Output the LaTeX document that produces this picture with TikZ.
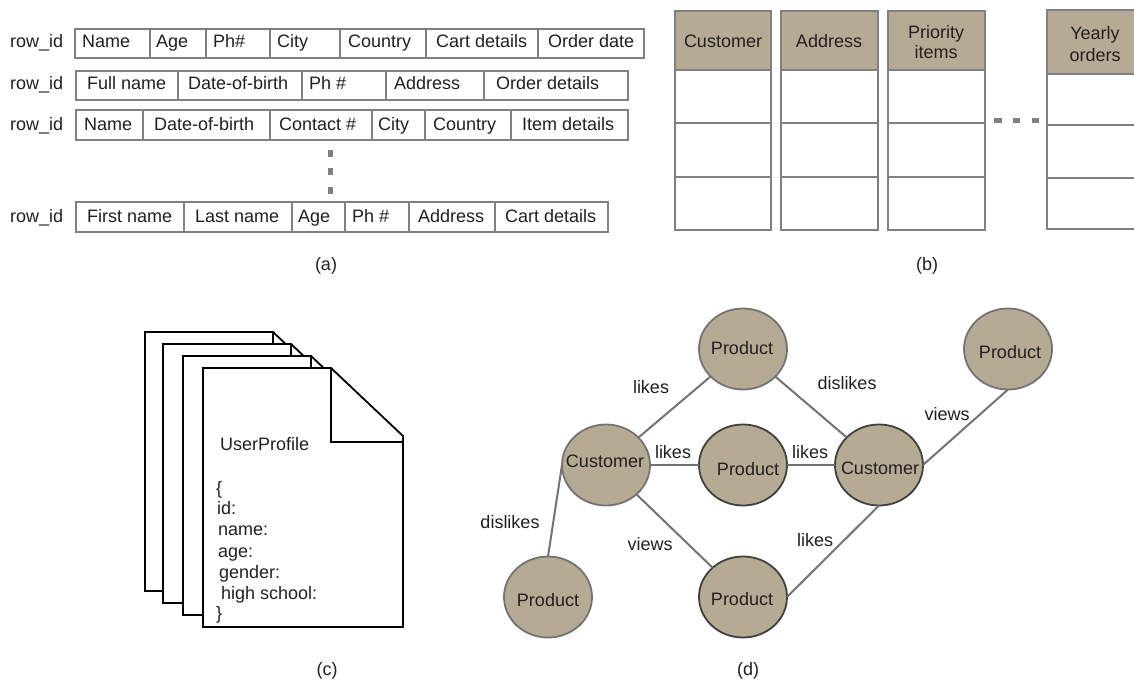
\documentclass[tikz,border=0pt]{standalone}
\usepackage{fontspec}
\setmainfont{Liberation Sans}
\usetikzlibrary{shapes.geometric}
\definecolor{taupe}{HTML}{B5AB95}
\definecolor{ln}{HTML}{808080}
\definecolor{ink}{HTML}{231F20}
\tikzset{
  txt/.style={font=\fontsize{18}{21}\selectfont, text=ink, inner sep=0pt},
  base/.style={txt, anchor=base west},
  boxcell/.style={draw=ln, line width=2pt, inner sep=0pt, outer sep=0pt, anchor=north west},
  circnode/.style={ellipse, draw=#1, line width=1.8pt, fill=taupe, minimum width=88pt, minimum height=81pt, inner sep=0pt, outer sep=0pt},
  circnode/.default={ln!90!black},
  edgeline/.style={draw=ln!90!black, line width=2pt},
  docline/.style={draw=black, line width=1.8pt, fill=white, line join=miter},
  dotline/.style={draw=ln, line width=5pt}
}
\newcommand{\rcell}[8]{%
  \node[boxcell, minimum width={(#3-#2)*1pt}, minimum height={(#5-#4)*1pt}] (#1) at (#2,#4) {};
  \node[base] (#1t) at (#6,#7) {#8};}
\newcommand{\tcell}[6]{%
  \node[boxcell, fill=#6, minimum width={(#3-#2)*1pt}, minimum height={(#5-#4)*1pt}] (#1) at (#2,#4) {};}
\newcommand{\docsheet}[2]{%
  \begin{scope}[shift={(#1,#2)}]
    \draw[docline] (0,0) -- (128,0) -- (200,68) -- (200,259) -- (0,259) -- cycle;
    \draw[docline, fill=none] (128,0) -- (128,74) -- (200,74);
  \end{scope}}
\begin{document}
\begin{tikzpicture}[x=1pt,y=-1pt]
\useasboundingbox (0,0) rectangle (1134,682);
\fill[white] (0,0) rectangle (1134,682);
% (a)
\node[base] (ra) at (10,48) {row\_id};
\node[base] (rb) at (10,90) {row\_id};
\node[base] (rc) at (10,130) {row\_id};
\node[base] (rd) at (10,222) {row\_id};
\rcell{aa}{75}{150}{29}{58}{82}{48}{Name}
\rcell{ab}{150}{206}{29}{58}{156}{48}{Age}
\rcell{ac}{206}{270}{29}{58}{213}{48}{Ph\#}
\rcell{ad}{270}{340}{29}{58}{277}{48}{City}
\rcell{ae}{340}{426}{29}{58}{348}{48}{Country}
\rcell{af}{426}{538}{29}{58}{436}{48}{Cart details}
\rcell{ag}{538}{644}{29}{58}{548}{48}{Order date}
\rcell{ba}{76}{178}{71}{100}{87}{90}{Full name}
\rcell{bb}{178}{302}{71}{100}{188}{90}{Date-of-birth}
\rcell{bc}{302}{386}{71}{100}{309}{90}{Ph \#}
\rcell{bd}{386}{484}{71}{100}{394}{90}{Address}
\rcell{be}{484}{628}{71}{100}{496}{90}{Order details}
\rcell{ca}{76}{143}{110}{140}{84}{130}{Name}
\rcell{cb}{143}{270}{110}{140}{154}{130}{Date-of-birth}
\rcell{cc}{270}{372}{110}{140}{279}{130}{Contact \#}
\rcell{cd}{372}{425}{110}{140}{378}{130}{City}
\rcell{ce}{425}{511}{110}{140}{433}{130}{Country}
\rcell{cf}{511}{628}{110}{140}{522}{130}{Item details}
\rcell{da}{76}{184}{202}{232}{87}{222}{First name}
\rcell{db}{184}{292}{202}{232}{195}{222}{Last name}
\rcell{dc}{292}{345}{202}{232}{298}{222}{Age}
\rcell{dd}{345}{409}{202}{232}{352}{222}{Ph \#}
\rcell{de}{409}{495}{202}{232}{418}{222}{Address}
\rcell{df}{495}{608}{202}{232}{505}{222}{Cart details}
\draw[dotline] (330,150) -- (330,157);
\draw[dotline] (330,168) -- (330,175);
\draw[dotline] (330,187) -- (330,194);
\node[txt] (capa) at (326,266) {(a)};
% (b)
\tcell{pa}{675}{771}{11}{70}{taupe}
\tcell{pb}{675}{771}{70}{123}{white}
\tcell{pc}{675}{771}{123}{177}{white}
\tcell{pd}{675}{771}{177}{230}{white}
\tcell{qa}{781}{878}{11}{70}{taupe}
\tcell{qb}{781}{878}{70}{123}{white}
\tcell{qc}{781}{878}{123}{177}{white}
\tcell{qd}{781}{878}{177}{230}{white}
\tcell{sa}{888}{985}{11}{70}{taupe}
\tcell{sb}{888}{985}{70}{123}{white}
\tcell{sc}{888}{985}{123}{177}{white}
\tcell{sd}{888}{985}{177}{230}{white}
\node[txt] (pat) at (723,41) {Customer};
\node[txt] (qat) at (829,41) {Address};
\node[txt, align=center] (sat) at (936,42) {Priority\\[-1pt]items};
\fill[taupe] (1047,10) rectangle (1134,74);
\draw[draw=ln, line width=2pt] (1134,10) -- (1047,10) -- (1047,229) -- (1134,229);
\draw[draw=ln, line width=2pt] (1047,74) -- (1134,74);
\draw[draw=ln, line width=2pt] (1047,125) -- (1134,125);
\draw[draw=ln, line width=2pt] (1047,178) -- (1134,178);
\node[txt, align=center] (yat) at (1095,44) {Yearly\\[1pt]orders};
\draw[ln, line width=5pt] (994,121) -- (1002,121);
\draw[ln, line width=5pt] (1013,121) -- (1020,121);
\draw[ln, line width=5pt] (1032,121) -- (1039,121);
\node[txt] (capb) at (927,266) {(b)};
% (c)
\docsheet{145}{332}
\docsheet{163}{344}
\docsheet{183}{356}
\docsheet{203}{368}
\node[base] (up) at (220,450) {UserProfile};
\node[base] at (216,494) {\{};
\node[base] at (217,514) {id:};
\node[base] at (218,535) {name:};
\node[base] at (218,557) {age:};
\node[base] at (219,578) {gender:};
\node[base] at (221,599) {high school:};
\node[base] at (216,619) {\}};
\node[txt] (capc) at (327,671) {(c)};
% (d)
\node[circnode] (ptop) at (743,349) {};
\node[circnode] (ptr) at (1008,349) {};
\node[circnode] (cl) at (606,465) {};
\node[circnode={black!75}] (pm) at (743,465) {};
\node[circnode={black!75}] (cr) at (879,465) {};
\node[circnode] (pbl) at (548,597) {};
\node[circnode={black!75}] (pb) at (743,597) {};
\node[txt] at (742,348) {Product};
\node[txt] at (1010,352) {Product};
\node[txt] at (605,461) {Customer};
\node[txt] at (748,469) {Product};
\node[txt] at (880,468) {Customer};
\node[txt] at (548,600) {Product};
\node[txt] at (742,599) {Product};
\draw[edgeline] (cl) -- (ptop);
\draw[edgeline] (ptop) -- (cr);
\draw[edgeline] (cl.east) -- (pm.west);
\draw[edgeline] (pm.east) -- (cr.west);
\draw[edgeline] (cl) -- (pb);
\draw[edgeline] (cl.west) -- (pbl.north);
\draw[edgeline] (cr.south) -- (pb.east);
\draw[edgeline] (cr.east) -- (ptr.south);
\node[txt] (l1) at (651,387) {likes};
\node[txt] (l2) at (847,383) {dislikes};
\node[txt] (l3) at (947,414) {views};
\node[txt] (l4) at (673,452) {likes};
\node[txt] (l5) at (810,452) {likes};
\node[txt] (l6) at (510,522) {dislikes};
\node[txt] (l7) at (650,544) {views};
\node[txt] (l8) at (815,540) {likes};
\node[txt] (capd) at (748,671) {(d)};
\end{tikzpicture}
\end{document}
